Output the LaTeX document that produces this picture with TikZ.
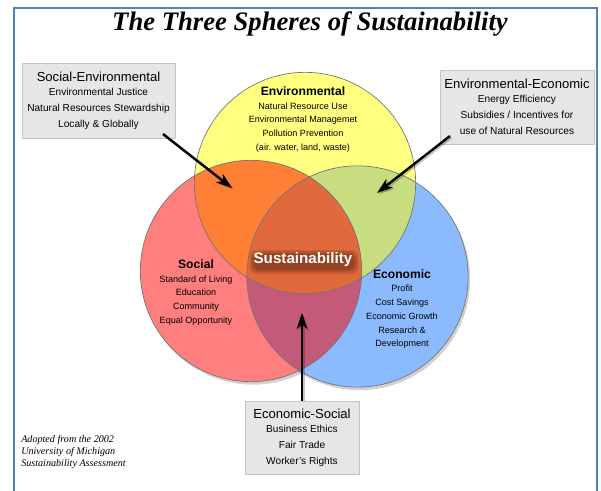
\documentclass[tikz,border=0pt]{standalone}
\usepackage{fontspec}
\setmainfont{Liberation Serif}
\setsansfont{Liberation Sans}
\usetikzlibrary{arrows.meta,calc}
\definecolor{framec}{RGB}{79,129,189}
\definecolor{cyel}{RGB}{255,255,128}
\definecolor{cred}{RGB}{255,126,126}
\definecolor{cblue}{RGB}{140,186,255}
\definecolor{corange}{RGB}{255,128,52}
\definecolor{cgreen}{RGB}{200,220,128}
\definecolor{cmauve}{RGB}{196,90,122}
\definecolor{ccenter}{RGB}{224,106,62}
\definecolor{boxfill}{RGB}{230,230,230}
\definecolor{boxline}{RGB}{196,196,196}
\definecolor{glowc}{RGB}{80,30,8}
\tikzset{
  sphere/.style={draw=black!55, line width=0.5pt},
  infobox/.style={draw=boxline, fill=boxfill, line width=0.6pt, align=center, inner sep=0pt, font=\sffamily},
  circtext/.style={align=center, inner sep=0pt, font=\sffamily\fontsize{6.8}{10.3}\selectfont},
  callout/.style={line width=1.8pt, -{Stealth[length=12pt,width=8pt,inset=3.5pt]}},
  calloutshadow/.style={line width=1.8pt, draw=black, opacity=0.22, -{Stealth[length=12pt,width=8pt,inset=3.5pt]}},
  glowlayer/.style={fill=glowc, opacity=0.16, rounded corners=5pt},
}
\newcommand{\boxtitle}[1]{{\fontsize{9.8}{12}\selectfont #1}}
\newcommand{\circtitle}[1]{{\bfseries\fontsize{9.1}{11}\selectfont #1}}
\begin{document}
\begin{tikzpicture}[x=0.75pt,y=-0.75pt]
\useasboundingbox (0,0) rectangle (601,491);
\fill[white] (0,0) rectangle (601,491);
% frame
\draw[framec, line width=1.5pt] (14,491) -- (14,8) -- (597,8) -- (597,491);
% title
\node[font=\bfseries\itshape\fontsize{20}{24}\selectfont, inner sep=0pt] (title) at (310,24) {The Three Spheres of Sustainability};

% circle centres
\coordinate (cy) at (305,183);
\coordinate (cr) at (251,271);
\coordinate (cb) at (357.5,276.5);
\def\rad{83pt}
% shadows
\fill[black, opacity=0.18] ($(cr)+(2,3)$) circle[radius=\rad];
\fill[black, opacity=0.18] ($(cb)+(2,3)$) circle[radius=\rad];
% base fills
\fill[cyel] (cy) circle[radius=\rad];
\fill[cred] (cr) circle[radius=\rad];
\fill[cblue] (cb) circle[radius=\rad];
\begin{scope}
  \clip (cy) circle[radius=\rad];
  \fill[corange] (cr) circle[radius=\rad];
  \fill[cgreen] (cb) circle[radius=\rad];
\end{scope}
\begin{scope}
  \clip (cr) circle[radius=\rad];
  \fill[cmauve] (cb) circle[radius=\rad];
  \clip (cb) circle[radius=\rad];
  \fill[ccenter] (cy) circle[radius=\rad];
\end{scope}
\draw[sphere] (cy) circle[radius=\rad];
\draw[sphere] (cr) circle[radius=\rad];
\draw[sphere] (cb) circle[radius=\rad];

% circle texts
\node[circtext] (env) at (303,119.5) {\circtitle{Environmental}\\Natural Resource Use\\Environmental Managemet\\Pollution Prevention\\(air. water, land, waste)};
\node[circtext] (soc) at (196,292.5) {\circtitle{Social}\\Standard of Living\\Education\\Community\\Equal Opportunity};
\node[circtext] (eco) at (402,309) {\circtitle{Economic}\\Profit\\Cost Savings\\Economic Growth\\Research \&\\Development};

% sustainability with dark glow
\coordinate (susc) at (303,260);
\foreach \d in {0,1.5,3,4.5} {
  \fill[glowlayer] ($(susc)+(-50-\d,-7-\d)+(1,1.5)$) rectangle ($(susc)+(50+\d,8+\d)+(1,1.5)$);
}
\node[font=\sffamily\bfseries\fontsize{11.4}{13}\selectfont, text=white, inner sep=0pt] (sus) at (susc) {Sustainability};

% boxes
\node[infobox, minimum width=114.75pt, minimum height=56.25pt] (se) at (98.5,100.5)
  {\boxtitle{Social-Environmental}\\[-1.4pt]{\fontsize{7.6}{12}\selectfont Environmental Justice}\\{\fontsize{7.6}{12}\selectfont Natural Resources Stewardship}\\{\fontsize{7.6}{12}\selectfont Locally \& Globally}};
\node[infobox, minimum width=115.5pt, minimum height=55.5pt] (ee) at (517,107)
  {\boxtitle{Environmental-Economic}\\[-1.4pt]{\fontsize{7.6}{12}\selectfont Energy Efficiency}\\{\fontsize{7.6}{12}\selectfont Subsidies / Incentives for}\\{\fontsize{7.6}{12}\selectfont use of Natural Resources}};
\node[infobox, minimum width=85.5pt, minimum height=54.75pt] (es) at (302,437.5)
  {\boxtitle{Economic-Social}\\[-1.6pt]{\fontsize{7.6}{11.7}\selectfont Business Ethics}\\{\fontsize{7.6}{11.7}\selectfont Fair Trade}\\{\fontsize{7.6}{11.7}\selectfont Worker's Rights}};

% arrows
\coordinate (a1s) at (163,134);
\coordinate (a1e) at (232,188);
\coordinate (a2s) at (450,136);
\coordinate (a2e) at (377,193);
\coordinate (a3e) at (302,313);
\draw[calloutshadow] ($(a1s)+(1.5,1.5)$) -- ($(a1e)+(1.5,1.5)$);
\draw[calloutshadow] ($(a2s)+(1.5,1.5)$) -- ($(a2e)+(1.5,1.5)$);
\draw[calloutshadow] ($(es.north)+(1.5,0)$) -- ($(a3e)+(1.5,1.5)$);
\draw[callout] (a1s) -- (a1e);
\draw[callout] (a2s) -- (a2e);
\draw[callout] (es.north) -- (a3e);

% source note
\node[anchor=north west, align=left, inner sep=0pt, font=\itshape\fontsize{7.6}{9.2}\selectfont] (src) at (21,435)
  {Adopted from the 2002\\University of Michigan\\Sustainability Assessment};
\end{tikzpicture}
\end{document}
